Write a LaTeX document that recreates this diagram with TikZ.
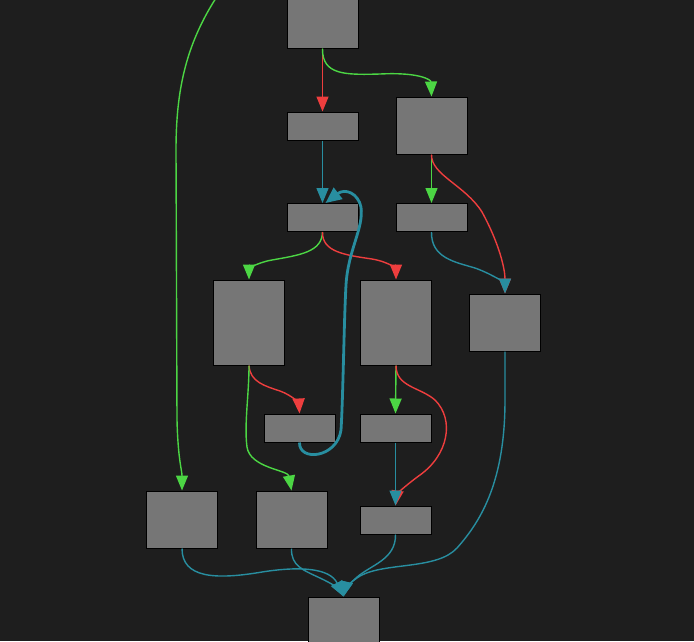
\documentclass[tikz,border=0pt]{standalone}
\usetikzlibrary{arrows.meta}
\definecolor{bgdark}{RGB}{30,30,30}
\definecolor{boxgray}{RGB}{118,118,118}
\definecolor{edgered}{RGB}{238,62,62}
\definecolor{edgegreen}{RGB}{76,214,68}
\definecolor{edgeblue}{RGB}{40,142,160}
\begin{document}
\begin{tikzpicture}
[x=1pt,y=-1pt,
 block/.style={draw=black,fill=boxgray,line width=1pt,inner sep=0pt,minimum width=71pt},
 short/.style={block,minimum height=28pt},
 mid/.style={block,minimum height=57pt},
 tall/.style={block,minimum height=85pt},
 flow/.style={line width=1.4pt,-{Triangle[length=15pt,width=12pt]}},
 redge/.style={flow,draw=edgered},
 gedge/.style={flow,draw=edgegreen},
 bedge/.style={flow,draw=edgeblue},
 backedge/.style={bedge,line width=2.8pt,-{Triangle[length=16pt,width=14pt]}}]
\fill[bgdark] (0,0) rectangle (694,641);
\useasboundingbox (0,0) rectangle (694,641);
\clip (0,0) rectangle (694,641);
% blocks
\node[mid]   (entry) at (322.5,19.5) {};
\node[short] (b1)    at (322.5,126)  {};
\node[mid]   (b2)    at (431.5,125.5){};
\node[short] (b3)    at (322.5,217.5){};
\node[short] (b4)    at (431.5,217.5){};
\node[tall]  (b5)    at (249,322.5)  {};
\node[tall]  (b6)    at (396,322.5)  {};
\node[mid]   (b7)    at (505,322.5)  {};
\node[short] (b8)    at (299.5,428)  {};
\node[short] (b9)    at (395.5,428)  {};
\node[mid]   (b10)   at (182,519.5)  {};
\node[mid]   (b11)   at (291.5,519.5){};
\node[short] (b12)   at (395.5,520)  {};
\node[mid]   (exit)  at (343.5,625.5){};
\coordinate (offtop) at (216,-2);
% edges
\draw[gedge] (offtop) .. controls (186,45) and (176,90) .. (176,150) -- (177,420) .. controls (178,460) and (182,470) .. (b10.north);
\draw[redge] (entry.south) -- (b1.north);
\draw[gedge] (entry.south) .. controls (322,75) and (345,75) .. (380,74) .. controls (420,72) and (431,80) .. (b2.north);
\draw[bedge] (b1.south) -- (b3.north);
\draw[gedge] (b2.south) -- (b4.north);
\draw[redge] (b2.south) .. controls (431,175) and (465,185) .. (482,212) .. controls (500,245) and (505,270) .. (b7.north);
\draw[bedge] (b4.south) .. controls (431,258) and (455,262) .. (475,268) .. controls (495,275) and (505,285) .. (b7.north);
\draw[gedge] (b3.south) .. controls (322,252) and (300,255) .. (272,260) .. controls (255,263) and (249,270) .. (b5.north);
\draw[redge] (b3.south) .. controls (322,252) and (345,255) .. (372,259) .. controls (390,262) and (396,270) .. (b6.north);
\draw[redge] (b5.south) .. controls (250,382) and (265,386) .. (280,391) .. controls (294,396) and (299,405) .. (b8.north);
\draw[gedge] (b5.south) .. controls (249,395) and (244,425) .. (247,447) .. controls (250,468) and (288,470) .. (b11.north);
\draw[gedge] (b6.south) -- (b9.north);
\draw[redge] (b6.south) .. controls (396,387) and (420,387) .. (435,400) .. controls (455,420) and (448,455) .. (420,475) .. controls (402,488) and (397,495) .. (b12.north);
\draw[bedge] (b9.south) -- (b12.north);
\draw[backedge] (b8.south) .. controls (299,462) and (337,458) .. (341,430) .. controls (343,400) and (344,320) .. (346,285) .. controls (348,250) and (364,228) .. (361,207) .. controls (358,193) and (345,188) .. ([xshift=3pt]b3.north);
\draw[bedge] (b10.south) .. controls (182,578) and (215,580) .. (262,572) .. controls (300,566) and (330,568) .. (exit.north);
\draw[bedge] (b11.south) .. controls (291,566) and (303,570) .. (320,578) .. controls (333,584) and (340,590) .. (exit.north);
\draw[bedge] (b12.south) .. controls (396,560) and (370,565) .. (356,578) .. controls (349,584) and (345,590) .. (exit.north);
\draw[bedge] (b7.south) -- (505,400) .. controls (505,480) and (482,520) .. (457,548) .. controls (437,570) and (385,562) .. (360,576) .. controls (350,582) and (345,590) .. (exit.north);
\end{tikzpicture}
\end{document}
